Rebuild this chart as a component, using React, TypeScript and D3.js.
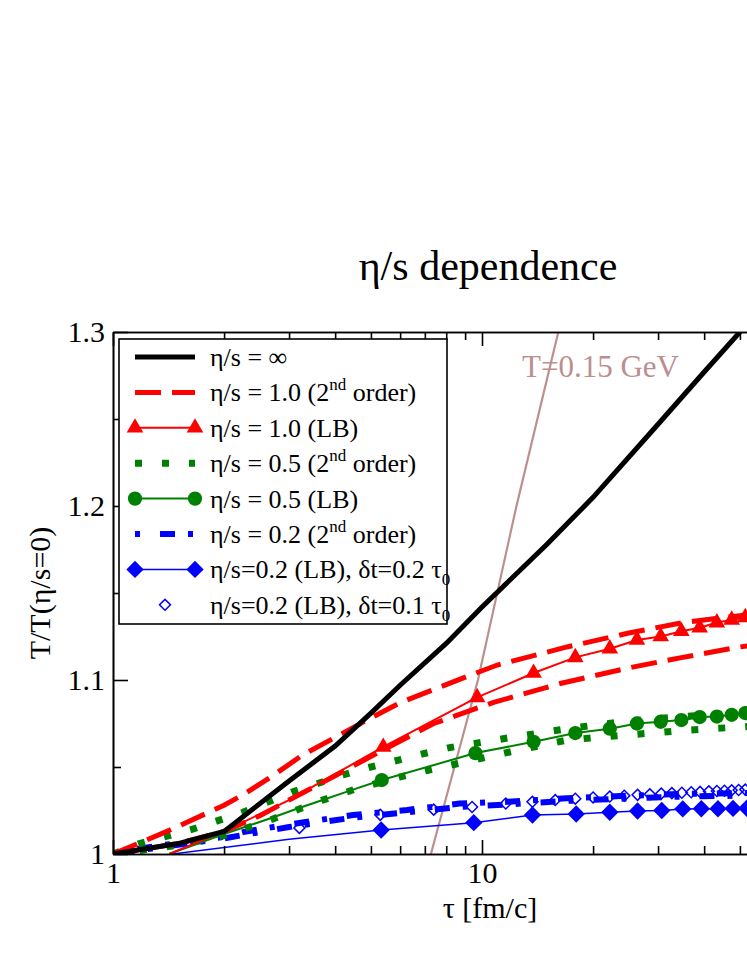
import React, { useEffect, useRef } from "react";
import * as d3 from "d3";

// ---- data ----
const tauBlack = [1, 1.5, 2, 3, 4, 5, 6, 8, 10, 15, 20, 30, 40, 50, 60];
const tBlack = [1.0, 1.006, 1.013, 1.042, 1.062, 1.081, 1.097, 1.121, 1.142, 1.178, 1.205, 1.247, 1.277, 1.3, 1.319];

const tauRed2a = [1, 1.4, 2, 2.25, 2.71, 3.27, 4, 4.88, 6, 7.5, 9.1, 11, 17, 25, 35, 50, 60];
const tRed2a = [1, 1.013, 1.028, 1.034, 1.045, 1.057, 1.067, 1.077, 1.087, 1.095, 1.102, 1.1086, 1.119, 1.127, 1.133, 1.137, 1.139];
const tauRed2b = [1, 1.5, 2, 2.5, 3, 4, 5.2, 7.4, 10.7, 16.3, 25, 35, 50, 60];
const tRed2b = [1, 1.006, 1.013, 1.022, 1.031, 1.045, 1.058, 1.075, 1.087, 1.098, 1.107, 1.113, 1.119, 1.121];

const tauRedLB = [1.42, 2, 3, 4, 5.4, 9.7, 13.8, 17.9, 22.2, 26.3, 30.5, 34.7, 38.9, 43.3, 47.5, 51.7];
const tRedLB = [1, 1.013, 1.031, 1.046, 1.0615, 1.09, 1.104, 1.113, 1.118, 1.123, 1.125, 1.128, 1.13, 1.133, 1.1345, 1.136];

const tauGreen2a = [1, 1.18, 1.65, 2.25, 3.06, 4.2, 5, 6.9, 8.1, 12, 17, 25, 35, 50, 60];
const tGreen2a = [1, 1.006, 1.0144, 1.024, 1.0356, 1.0454, 1.05, 1.0575, 1.061, 1.067, 1.072, 1.0765, 1.079, 1.081, 1.082];
const tauGreen2b = [1, 1.5, 2, 2.7, 3.7, 4.5, 6, 7.1, 11.5, 17, 22, 35, 50, 60];
const tGreen2b = [1, 1.005, 1.0105, 1.02, 1.031, 1.037, 1.0443, 1.048, 1.058, 1.0655, 1.0675, 1.071, 1.073, 1.074];

const tauGreenLB = [1.42, 2, 2.71, 3.15, 3.7, 4.33, 5.35, 9.6, 13.8, 17.9, 22.2, 26.3, 30.5, 34.7, 38.9, 43.3, 47.5, 51.7];
const tGreenLB = [1, 1.0115, 1.021, 1.026, 1.031, 1.036, 1.0425, 1.058, 1.0645, 1.0695, 1.072, 1.075, 1.076, 1.077, 1.0787, 1.079, 1.08, 1.081];

const tauBlue2a = [1, 1.2, 1.58, 2, 2.25, 2.94, 3.95, 4.47, 6.27, 8.7, 11.7, 17, 25, 35, 50, 60];
const tBlue2a = [1, 1.0034, 1.007, 1.0098, 1.0126, 1.0167, 1.0207, 1.0224, 1.0253, 1.029, 1.03, 1.032, 1.0335, 1.0345, 1.035, 1.0355];
const tauBlue2b = [1, 2, 3, 4.5, 6.3, 8.7, 11.7, 17, 25, 35, 50, 60];
const tBlue2b = [1, 1.009, 1.0155, 1.021, 1.024, 1.027, 1.0285, 1.0305, 1.032, 1.033, 1.0335, 1.034];

const tauBlueLB = [1.45, 3, 5.33, 9.5, 13.7, 18, 22.2, 26.4, 30.7, 35, 39.3, 43.6, 47.9, 52.2];
const tBlueLB = [1, 1.0085, 1.0138, 1.018, 1.0224, 1.023, 1.024, 1.0247, 1.025, 1.0259, 1.026, 1.026, 1.0262, 1.0263];

const tauBlueOpen = [3.2, 5.3, 7.4, 9.4, 11.6, 13.7, 15.8, 17.9, 20, 22.2, 24.3, 26.4, 28.5, 30.6, 32.7, 34.8, 36.9, 39, 41.2, 43.3, 45.4, 47.5, 49.6, 51.7];
const tBlueOpen = [1.015, 1.0225, 1.0255, 1.027, 1.029, 1.03, 1.031, 1.0318, 1.0325, 1.033, 1.0335, 1.034, 1.0343, 1.0347, 1.035, 1.0352, 1.0355, 1.0357, 1.036, 1.0362, 1.0364, 1.0366, 1.0368, 1.037];

const tauT015 = [7.27, 9.75, 12.4, 16.1];
const tT015 = [1.0, 1.1, 1.2, 1.3];

const yMajor = [1, 1.1, 1.2, 1.3];
const yMinor = [1.05, 1.15, 1.25];
const xMajor = [1, 10];
const xMinor = [2, 3, 4, 5, 6, 7, 8, 9, 20, 30, 40, 50, 60, 70, 80, 90];

const FONT = "'Liberation Serif', 'Times New Roman', serif";
const RED = "#ff0000";
const GREEN = "#008000";
const BLUE = "#0000ff";
const ROSY = "#bc8f8f";

const W = 747;
const H = 967;
const left = 113;
const right = 851;
const top = 332;
const bottom = 854;

const x = d3.scaleLog().domain([1, 100]).range([left, right]);
const y = d3.scaleLinear().domain([1, 1.3]).range([bottom, top]);

const zip = (t: number[], v: number[]) => t.map((ti, i) => [ti, v[i]] as [number, number]);
const line = d3
    .line<[number, number]>()
    .x((d) => x(d[0]))
    .y((d) => y(d[1]));

const triPath = d3.symbol(d3.symbolTriangle, 120)() || "";
const circPath = d3.symbol(d3.symbolCircle, 160)() || "";
const diaPath = d3.symbol(d3.symbolSquare, 150)() || "";
const openDiaPath = d3.symbol(d3.symbolSquare, 60)() || "";

function Axes() {
    const ref = useRef<SVGGElement | null>(null);
    useEffect(() => {
        const g = d3.select(ref.current);
        g.selectAll("*").remove();
        const style = (sel: any) => {
            sel.attr("font-family", null).attr("font-size", null);
            sel.select(".domain").attr("stroke-width", 1.6).attr("stroke", "#000");
            sel.selectAll(".tick line").attr("stroke-width", 1.6).attr("stroke", "#000");
            sel.selectAll(".tick text")
                .attr("font-family", FONT)
                .attr("font-size", 30)
                .attr("fill", "#000");
        };
        // left
        g.append("g")
            .attr("transform", `translate(${left},0)`)
            .call(
                d3.axisLeft(y)
                    .tickValues(yMajor)
                    .tickSizeInner(-15)
                    .tickSizeOuter(0)
                    .tickPadding(8)
                    .tickFormat((d: any) => (d === 1 ? "1" : d3.format(".1f")(d)))
            )
            .call(style);
        g.append("g")
            .attr("transform", `translate(${left},0)`)
            .call(d3.axisLeft(y).tickValues(yMinor).tickSizeInner(-8).tickSizeOuter(0).tickFormat(() => ""))
            .call(style);
        // bottom
        g.append("g")
            .attr("transform", `translate(0,${bottom})`)
            .call(
                d3.axisBottom(x)
                    .tickValues(xMajor)
                    .tickSizeInner(-14)
                    .tickSizeOuter(0)
                    .tickPadding(8)
                    .tickFormat((d: any) => String(d))
            )
            .call(style);
        g.append("g")
            .attr("transform", `translate(0,${bottom})`)
            .call(d3.axisBottom(x).tickValues(xMinor).tickSizeInner(-8).tickSizeOuter(0).tickFormat(() => ""))
            .call(style);
        // top
        g.append("g")
            .attr("transform", `translate(0,${top})`)
            .call(d3.axisTop(x).tickValues(xMajor).tickSizeInner(-14).tickSizeOuter(0).tickFormat(() => ""))
            .call(style);
        g.append("g")
            .attr("transform", `translate(0,${top})`)
            .call(d3.axisTop(x).tickValues(xMinor).tickSizeInner(-8).tickSizeOuter(0).tickFormat(() => ""))
            .call(style);
    }, []);
    return <g ref={ref} />;
}

const legendRows = [0, 1, 2, 3, 4, 5, 6, 7].map((i) => 357 + i * 35.4);

function Sup({ base, sup, rest }: { base: string; sup: string; rest: string }) {
    return (
        <>
            {base}
            <tspan dy={-11} fontSize={17}>
                {sup}
            </tspan>
            <tspan dy={11}>{rest}</tspan>
        </>
    );
}

export default function App() {
    const lx0 = 135;
    const lx1 = 195;
    const tx = 210;
    return (
        <svg
            width={W}
            height={H}
            style={{ position: "absolute", left: 0, top: 0, background: "#fff" }}
            fontFamily={FONT}
        >
            <defs>
                <clipPath id="plot-clip">
                    <rect x={left} y={top} width={right - left} height={bottom - top} />
                </clipPath>
            </defs>

            <text x={488} y={280} fontSize={42} textAnchor="middle" fontFamily={FONT}>
                η/s dependence
            </text>

            <g clipPath="url(#plot-clip)">
                <path d={line(zip(tauT015, tT015)) || ""} fill="none" stroke={ROSY} strokeWidth={2.2} />

                <path d={line(zip(tauBlue2a, tBlue2a)) || ""} fill="none" stroke={BLUE} strokeWidth={6} strokeDasharray="5,20,15,13" />
                <path d={line(zip(tauBlue2b, tBlue2b)) || ""} fill="none" stroke={BLUE} strokeWidth={6} strokeDasharray="5,20,15,13" strokeDashoffset={18} />
                <path d={line(zip(tauBlueLB, tBlueLB)) || ""} fill="none" stroke={BLUE} strokeWidth={1.5} />
                {zip(tauBlueLB, tBlueLB)
                    .filter((d) => d[0] >= 5)
                    .map((d, i) => (
                        <path key={"bd" + i} d={diaPath} transform={`translate(${x(d[0])},${y(d[1])}) rotate(45)`} fill={BLUE} />
                    ))}
                {zip(tauBlueOpen, tBlueOpen).map((d, i) => (
                    <path key={"bo" + i} d={openDiaPath} transform={`translate(${x(d[0])},${y(d[1])}) rotate(45)`} fill="none" stroke={BLUE} strokeWidth={1.5} />
                ))}

                <path d={line(zip(tauGreenLB, tGreenLB)) || ""} fill="none" stroke={GREEN} strokeWidth={2} />
                {zip(tauGreenLB, tGreenLB)
                    .filter((d) => d[0] >= 5)
                    .map((d, i) => (
                        <path key={"gc" + i} d={circPath} transform={`translate(${x(d[0])},${y(d[1])})`} fill={GREEN} />
                    ))}
                <path d={line(zip(tauGreen2a, tGreen2a)) || ""} fill="none" stroke={GREEN} strokeWidth={7} strokeDasharray="7,20" />
                <path d={line(zip(tauGreen2b, tGreen2b)) || ""} fill="none" stroke={GREEN} strokeWidth={7} strokeDasharray="7,20" />

                <path d={line(zip(tauRedLB, tRedLB)) || ""} fill="none" stroke={RED} strokeWidth={2} />
                {zip(tauRedLB, tRedLB)
                    .filter((d) => d[0] >= 5)
                    .map((d, i) => (
                        <path key={"rt" + i} d={triPath} transform={`translate(${x(d[0])},${y(d[1])})`} fill={RED} />
                    ))}
                <path d={line(zip(tauRed2a, tRed2a)) || ""} fill="none" stroke={RED} strokeWidth={5} strokeDasharray="26,11" />
                <path d={line(zip(tauRed2b, tRed2b)) || ""} fill="none" stroke={RED} strokeWidth={5} strokeDasharray="26,11" />

                <path d={line(zip(tauBlack, tBlack)) || ""} fill="none" stroke="#000" strokeWidth={5} />
            </g>

            <text x={679} y={377} fontSize={31} fill={ROSY} textAnchor="end">
                T=0.15 GeV
            </text>

            <Axes />

            <text x={490} y={918} fontSize={30} textAnchor="middle">
                τ [fm/c]
            </text>
            <text transform={`translate(50,${(top + bottom) / 2}) rotate(-90)`} fontSize={30} textAnchor="middle">
                T/T(η/s=0)
            </text>

            {/* legend */}
            <rect x={119} y={339} width={328} height={285} fill="#fff" stroke="#000" strokeWidth={1.6} />
            <g fontSize={26}>
                <line x1={lx0} x2={lx1} y1={legendRows[0]} y2={legendRows[0]} stroke="#000" strokeWidth={5} />
                <text x={tx} y={legendRows[0] + 9}>η/s = ∞</text>

                <line x1={lx0} x2={lx1} y1={legendRows[1]} y2={legendRows[1]} stroke={RED} strokeWidth={5} strokeDasharray="26,11" />
                <text x={tx} y={legendRows[1] + 9}>
                    <Sup base="η/s = 1.0 (2" sup="nd" rest=" order)" />
                </text>

                <line x1={lx0} x2={lx1} y1={legendRows[2]} y2={legendRows[2]} stroke={RED} strokeWidth={2} />
                <path d={triPath} transform={`translate(${lx0},${legendRows[2]})`} fill={RED} />
                <path d={triPath} transform={`translate(${lx1},${legendRows[2]})`} fill={RED} />
                <text x={tx} y={legendRows[2] + 9}>η/s = 1.0 (LB)</text>

                <line x1={lx0} x2={lx1} y1={legendRows[3]} y2={legendRows[3]} stroke={GREEN} strokeWidth={7} strokeDasharray="7,20" />
                <text x={tx} y={legendRows[3] + 9}>
                    <Sup base="η/s = 0.5 (2" sup="nd" rest=" order)" />
                </text>

                <line x1={lx0} x2={lx1} y1={legendRows[4]} y2={legendRows[4]} stroke={GREEN} strokeWidth={2} />
                <path d={circPath} transform={`translate(${lx0},${legendRows[4]})`} fill={GREEN} />
                <path d={circPath} transform={`translate(${lx1},${legendRows[4]})`} fill={GREEN} />
                <text x={tx} y={legendRows[4] + 9}>η/s = 0.5 (LB)</text>

                <line x1={lx0} x2={lx1} y1={legendRows[5]} y2={legendRows[5]} stroke={BLUE} strokeWidth={6} strokeDasharray="5,20,15,13" />
                <text x={tx} y={legendRows[5] + 9}>
                    <Sup base="η/s = 0.2 (2" sup="nd" rest=" order)" />
                </text>

                <line x1={lx0} x2={lx1} y1={legendRows[6]} y2={legendRows[6]} stroke={BLUE} strokeWidth={1.5} />
                <path d={diaPath} transform={`translate(${lx0},${legendRows[6]}) rotate(45)`} fill={BLUE} />
                <path d={diaPath} transform={`translate(${lx1},${legendRows[6]}) rotate(45)`} fill={BLUE} />
                <text x={tx} y={legendRows[6] + 9}>
                    η/s=0.2 (LB), δt=0.2 τ
                    <tspan dy={7} fontSize={17}>
                        0
                    </tspan>
                </text>

                <path d={openDiaPath} transform={`translate(${(lx0 + lx1) / 2},${legendRows[7]}) rotate(45)`} fill="none" stroke={BLUE} strokeWidth={1.5} />
                <text x={tx} y={legendRows[7] + 9}>
                    η/s=0.2 (LB), δt=0.1 τ
                    <tspan dy={7} fontSize={17}>
                        0
                    </tspan>
                </text>
            </g>
        </svg>
    );
}
